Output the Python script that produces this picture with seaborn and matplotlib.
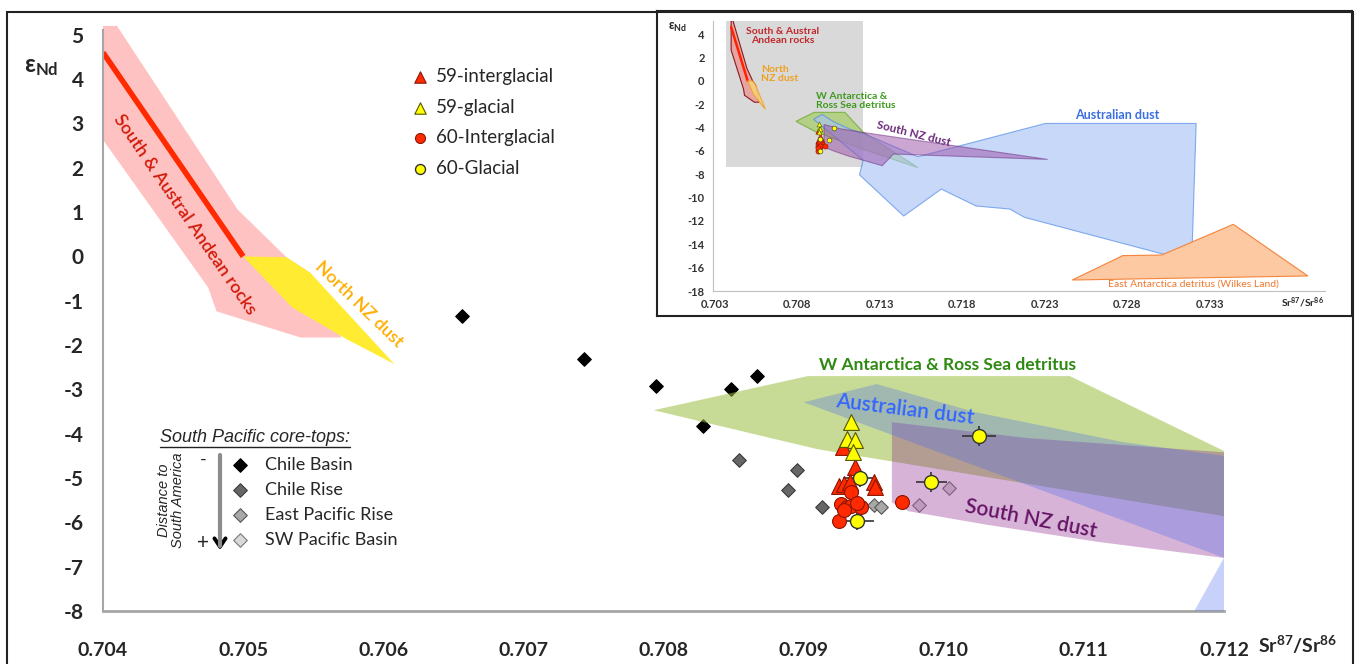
import numpy as np
import matplotlib
matplotlib.use("Agg")
import matplotlib.pyplot as plt
import seaborn as sns
from matplotlib.patches import Rectangle
from matplotlib.lines import Line2D
from matplotlib.ticker import FormatStrFormatter

# ---------------- data (Sr87/Sr86 , eps Nd) ----------------
# source envelopes
andean_x = [0.70400, 0.70410, 0.70496, 0.70531, 0.70548, 0.70570, 0.70541, 0.70481, 0.70475, 0.70400]
andean_y = [5.20, 5.20, 1.06, -0.02, -0.37, -1.83, -1.83, -1.24, -0.70, 2.63]
andean_line_x = [0.70400, 0.70500]
andean_line_y = [4.60, 0.00]
nnz_x = [0.70500, 0.70531, 0.70548, 0.70608, 0.70574, 0.70535]
nnz_y = [0.00, -0.02, -0.37, -2.43, -1.87, -1.15]
war_x = [0.70793, 0.70903, 0.71090, 0.71200, 0.71533, 0.71200, 0.70910]
war_y = [-3.47, -2.70, -2.70, -4.39, -7.44, -5.86, -4.35]
aus_x = [0.70900, 0.70952, 0.71022, 0.71128, 0.71200, 0.71533, 0.72305, 0.73219, 0.73192,
         0.72178, 0.72089, 0.71885, 0.71674, 0.71446, 0.71178, 0.71200]
aus_y = [-3.29, -2.88, -3.51, -4.19, -4.50, -6.50, -3.65, -3.65, -15.49,
         -11.69, -10.98, -10.72, -9.27, -11.58, -8.05, -6.80]
snz_x = [0.70963, 0.71060, 0.71200, 0.72319, 0.71384, 0.71316, 0.71110, 0.71030, 0.70975, 0.70963]
snz_y = [-3.74, -4.10, -4.42, -6.73, -6.27, -7.27, -6.44, -6.05, -5.75, -5.55]
eant_x = [0.72468, 0.72774, 0.73010, 0.73444, 0.73896]
eant_y = [-17.06, -14.97, -14.92, -12.29, -16.71]
zoom_box_x = [0.7037, 0.7120, 0.7120, 0.7037]
zoom_box_y = [5.34, 5.34, -7.36, -7.36]

# South Pacific core-tops
cb_x = [0.70656, 0.70743, 0.70795, 0.70828, 0.70848, 0.70867]
cb_y = [-1.35, -2.32, -2.93, -3.83, -3.00, -2.70]
cr_x = [0.70854, 0.70895, 0.70889, 0.70913]
cr_y = [-4.59, -4.82, -5.27, -5.65]
epr_x = [0.70950, 0.70955]
epr_y = [-5.60, -5.65]
swp_x = [0.70982, 0.71004]
swp_y = [-5.61, -5.23]

# cores 59 / 60
t59_ig_x = [0.70928, 0.70937, 0.70925, 0.70929, 0.70933, 0.70950, 0.70951]
t59_ig_y = [-4.30, -4.75, -5.18, -5.14, -5.09, -5.09, -5.20]
t59_g_x = [0.70934, 0.70931, 0.70937, 0.70935]
t59_g_y = [-3.74, -4.12, -4.14, -4.41]
c60_ig_x = [0.70934, 0.70927, 0.70931, 0.70934, 0.70941, 0.70938, 0.70925, 0.70929, 0.70970]
c60_ig_y = [-5.32, -5.59, -5.65, -5.63, -5.65, -5.57, -5.97, -5.72, -5.54]
c60_g_x = [0.70940, 0.70938, 0.70991, 0.71025]
c60_g_y = [-5.00, -5.97, -5.09, -4.05]
c60_g_xerr = [0.00012, 0.00012, 0.00011, 0.00012]
c60_g_yerr = [0.20, 0.20, 0.22, 0.22]

xticks = [0.704, 0.705, 0.706, 0.707, 0.708, 0.709, 0.710, 0.711, 0.712]
yticks = list(range(-8, 6))
inset_xticks = [0.703, 0.708, 0.713, 0.718, 0.723, 0.728, 0.733]
inset_yticks = list(range(-18, 5, 2))

# ---------------- style ----------------
sns.set_style("white")
plt.rcParams['font.family'] = ['Lato', 'DejaVu Sans']
plt.rcParams['axes.unicode_minus'] = False
plt.rcParams['mathtext.fontset'] = 'custom'
plt.rcParams['mathtext.rm'] = 'Lato:bold'
plt.rcParams['mathtext.it'] = 'Lato:bold'
plt.rcParams['mathtext.bf'] = 'Lato:bold'
plt.rcParams['mathtext.default'] = 'rm'

W, H = 1356, 664
def fx(px):
    return px / W
def fy(py):
    return 1 - py / H

fig = plt.figure(figsize=(13.56, 6.64), dpi=100)
ax = fig.add_axes([fx(103), fy(611), fx(1224) - fx(103), fy(21.5) - fy(611)])
ax.set_xlim(0.704, 0.712)
ax.set_ylim(-8, 5.3)

grey = '#a6a6a6'
for s in ['top', 'right']:
    ax.spines[s].set_visible(False)
ax.spines['left'].set_color(grey)
ax.spines['left'].set_linewidth(1.5)
ax.spines['left'].set_bounds(-8, 5.1)
ax.spines['bottom'].set_color(grey)
ax.spines['bottom'].set_linewidth(2)
ax.set_xticks(xticks)
ax.set_yticks(yticks)
ax.xaxis.set_major_formatter(FormatStrFormatter('%.3f'))
ax.tick_params(axis='x', direction='out', length=7, width=1.5, color=grey, pad=15, labelsize=14)
ax.tick_params(axis='y', direction='out', length=6, width=1.5, color=grey, pad=8, labelsize=15)
for lbl in ax.get_xticklabels() + ax.get_yticklabels():
    lbl.set_fontweight('bold')

# source fields
ax.fill(andean_x, andean_y, color='#ffc2c2', lw=0, zorder=1)
ax.fill(nnz_x, nnz_y, color='#ffec32', lw=0, zorder=1.2)
ax.plot(andean_line_x, andean_line_y, color='#ff2a00', lw=4, solid_capstyle='butt', zorder=1.5)

# core-top diamonds (under the fields)
sns.scatterplot(x=cb_x, y=cb_y, ax=ax, marker='D', s=48, color='black', edgecolor='black',
                linewidth=0.8, label='Chile Basin', zorder=2)
sns.scatterplot(x=cr_x, y=cr_y, ax=ax, marker='D', s=48, color='#666666', edgecolor='#3a3a3a',
                linewidth=0.8, label='Chile Rise', zorder=2)
sns.scatterplot(x=epr_x, y=epr_y, ax=ax, marker='D', s=48, color='#a8a8a8', edgecolor='#555555',
                linewidth=0.8, label='East Pacific Rise', zorder=2)
sns.scatterplot(x=swp_x, y=swp_y, ax=ax, marker='D', s=48, color='#d9d9d9', edgecolor='#777777',
                linewidth=0.8, label='SW Pacific Basin', zorder=2)

ax.fill(war_x, war_y, color='#9bbf40', alpha=0.55, lw=0, zorder=2.2)
ax.fill(snz_x, snz_y, color='#902f90', alpha=0.36, lw=0, zorder=2.4)
ax.fill(aus_x, aus_y, color='#4869ee', alpha=0.30, lw=0, zorder=2.6)

# labels of the fields
ax.text(0.70458, 0.95, 'South & Austral Andean rocks', color='#d01a0a', fontsize=13,
        fontweight='semibold', rotation=-55.5, ha='center', va='center', rotation_mode='anchor', zorder=4)
ax.text(0.70583, -1.08, 'North NZ dust', color='#ffae00', fontsize=13, fontweight='semibold',
        rotation=-44, ha='center', va='center', rotation_mode='anchor', zorder=4)
ax.text(0.71003, -2.45, 'W Antarctica & Ross Sea detritus', color='#2e8a12', fontsize=12.5,
        fontweight='bold', ha='center', va='center', zorder=4)
ax.text(0.70972, -3.45, 'Australian dust', color='#3366ff', fontsize=15, fontweight='semibold',
        rotation=-7, ha='center', va='center', rotation_mode='anchor', zorder=4)
ax.text(0.71062, -5.92, 'South NZ dust', color='#661466', fontsize=15, fontweight='semibold',
        rotation=-11, ha='center', va='center', rotation_mode='anchor', zorder=4)

# cores 59/60
ax.errorbar(c60_g_x, c60_g_y, xerr=c60_g_xerr, yerr=c60_g_yerr, fmt='none', ecolor='#333333',
            elinewidth=1.2, capsize=0, zorder=5)
sns.scatterplot(x=t59_ig_x, y=t59_ig_y, ax=ax, marker='^', s=130, color='#ff2a00', edgecolor='#8b1500',
                linewidth=0.8, label='59-interglacial', zorder=6)
sns.scatterplot(x=t59_g_x, y=t59_g_y, ax=ax, marker='^', s=130, color='#ffff00', edgecolor='#555500',
                linewidth=0.8, label='59-glacial', zorder=6)
sns.scatterplot(x=c60_ig_x, y=c60_ig_y, ax=ax, marker='o', s=100, color='#ff2a00', edgecolor='#8b1500',
                linewidth=0.8, label='60-Interglacial', zorder=6)
sns.scatterplot(x=c60_g_x, y=c60_g_y, ax=ax, marker='o', s=100, color='#ffff00', edgecolor='#333333',
                linewidth=1.0, label='60-Glacial', zorder=6)

handles, labels = ax.get_legend_handles_labels()
hmap = dict(zip(labels, handles))
lab1 = ['59-interglacial', '59-glacial', '60-Interglacial', '60-Glacial']
lab2 = ['Chile Basin', 'Chile Rise', 'East Pacific Rise', 'SW Pacific Basin']
leg1 = ax.legend([hmap[l] for l in lab1], lab1, loc='upper left', bbox_to_anchor=(fx(411), fy(68)),
                 bbox_transform=fig.transFigure, frameon=False, fontsize=13.5, handlelength=1.0,
                 handletextpad=0.35, labelspacing=0.72, borderpad=0, borderaxespad=0, markerscale=0.72)
ax.add_artist(leg1)
leg2 = ax.legend([hmap[l] for l in lab2], lab2, loc='upper left', bbox_to_anchor=(fx(231), fy(457)),
                 bbox_transform=fig.transFigure, frameon=False, fontsize=13, handlelength=1.0,
                 handletextpad=0.9, labelspacing=0.5, borderpad=0, borderaxespad=0, markerscale=1.0)

# core-top legend decorations
ttl = fig.text(fx(160), fy(437), 'South Pacific core-tops:', fontsize=13, style='italic',
               ha='left', va='center', family=['Liberation Sans', 'DejaVu Sans'])
fig.text(fx(171), fy(500), 'Distance to\nSouth America', fontsize=10.5, style='italic', rotation=90,
         ha='center', va='center', linespacing=1.0, family=['Liberation Sans', 'DejaVu Sans'])
fig.text(fx(203), fy(460), '-', fontsize=13, ha='center', va='center')
fig.text(fx(203), fy(543), '+', fontsize=15, ha='center', va='center')
fig.add_artist(Line2D([fx(220), fx(220)], [fy(455), fy(546)], color='#8c8c8c', lw=3))
ax.annotate('', xy=(fx(220), fy(553)), xytext=(fx(220), fy(538)), xycoords='figure fraction',
            arrowprops=dict(arrowstyle='->,head_length=0.6,head_width=0.4', color='black', lw=2.8))

# axis titles
fig.text(fx(24), fy(66), r'ε$_{Nd}$', fontsize=17, fontweight='bold', ha='left', va='center')
fig.text(fx(1258), fy(645), r'Sr$^{87}$/Sr$^{86}$', fontsize=14, fontweight='bold', ha='left', va='center')

# ---------------- inset ----------------
frame = fig.add_axes([fx(657), fy(316), fx(1352) - fx(657), fy(11) - fy(316)])
frame.set_xticks([])
frame.set_yticks([])
frame.set_facecolor('white')
for s in frame.spines.values():
    s.set_color('#222222')
    s.set_linewidth(1.5)

axi = fig.add_axes([fx(713), fy(291), fx(1325) - fx(713), fy(20.7) - fy(291)])
axi.patch.set_alpha(0)
axi.set_xlim(0.7029, 0.7400)
axi.set_ylim(-18, 5.15)
for s in ['top', 'right']:
    axi.spines[s].set_visible(False)
for s in ['left', 'bottom']:
    axi.spines[s].set_color('#bfbfbf')
axi.set_xticks(inset_xticks)
axi.set_yticks(inset_yticks)
axi.xaxis.set_major_formatter(FormatStrFormatter('%.3f'))
axi.tick_params(axis='both', direction='out', length=3, color='#bfbfbf', labelsize=8,
                labelcolor='#333333', pad=3)
for lbl in axi.get_xticklabels() + axi.get_yticklabels():
    lbl.set_fontweight('bold')

axi.fill(zoom_box_x, zoom_box_y, color='#d9d9d9', lw=0, zorder=1)
axi.fill(andean_x, andean_y, facecolor='#e8a3a3', edgecolor='#8b1a1a', lw=0.8, zorder=2)
axi.plot(andean_line_x, andean_line_y, color='#ff2200', lw=1.8, zorder=2.1)
axi.fill(nnz_x, nnz_y, facecolor='#f7d27a', edgecolor='#f0a030', lw=0.8, alpha=0.9, zorder=2.2)
axi.fill(war_x, war_y, facecolor='#a8cc6a', edgecolor='#6aa82a', lw=0.8, alpha=0.75, zorder=2.3)
axi.fill(aus_x, aus_y, facecolor='#a9c4f5', edgecolor='#4a86e8', lw=0.8, alpha=0.65, zorder=2.4)
axi.fill(snz_x, snz_y, facecolor='#9b4fa8', edgecolor='#6b2a7b', lw=0.8, alpha=0.5, zorder=2.5)
axi.fill(eant_x, eant_y, facecolor='#fcc9a2', edgecolor='#f4843c', lw=0.8, zorder=2.6)

sns.scatterplot(x=t59_ig_x, y=t59_ig_y, ax=axi, marker='^', s=14, color='#ff2a00', edgecolor='#8b1500',
                linewidth=0.4, zorder=5, legend=False)
sns.scatterplot(x=c60_ig_x, y=c60_ig_y, ax=axi, marker='o', s=14, color='#ff2a00', edgecolor='#8b1500',
                linewidth=0.4, zorder=5, legend=False)
sns.scatterplot(x=t59_g_x, y=t59_g_y, ax=axi, marker='^', s=12, color='#ffff00', edgecolor='#555500',
                linewidth=0.4, zorder=5.1, legend=False)
sns.scatterplot(x=c60_g_x, y=c60_g_y, ax=axi, marker='o', s=12, color='#ffff00', edgecolor='#333333',
                linewidth=0.4, zorder=5.1, legend=False)

axi.text(0.70712, 4.63, 'South & Austral\nAndean rocks', color='#c0282d', fontsize=7.5, fontweight='bold',
         ha='center', va='top', linespacing=1.05, zorder=6)
axi.text(0.70579, 1.35, 'North\nNZ dust', color='#f0a020', fontsize=7.5, fontweight='bold',
         ha='left', va='top', linespacing=1.05, zorder=6)
axi.text(0.70915, -0.94, 'W Antarctica &\nRoss Sea detritus', color='#3d9a1e', fontsize=7.5,
         fontweight='bold', ha='left', va='top', linespacing=1.05, zorder=6)
axi.text(0.71506, -4.5, 'South NZ dust', color='#6b2a7b', fontsize=8.5, fontweight='bold',
         rotation=-14, ha='center', va='center', rotation_mode='anchor', zorder=6)
axi.text(0.72742, -2.93, 'Australian dust', color='#3b6fe0', fontsize=9, fontweight='bold',
         ha='center', va='center', zorder=6)
axi.text(0.73200, -17.43, 'East Antarctica detritus (Wilkes Land)', color='#f07830', fontsize=7.5,
         ha='center', va='center', zorder=6)
fig.text(fx(668), fy(27), r'ε$_{Nd}$', fontsize=9, fontweight='bold', ha='left', va='center')
fig.text(fx(1281), fy(303), r'Sr$^{87}$/Sr$^{86}$', fontsize=7.5, fontweight='bold', ha='left', va='center')

# outer frame of the picture
fig.add_artist(Rectangle((fx(7), fy(668)), fx(1353) - fx(7), fy(12) - fy(668), fill=False,
                         transform=fig.transFigure, ec='#222222', lw=1.5, clip_on=False))

# underline of the core-top title
fig.canvas.draw()
bb = ttl.get_window_extent().transformed(fig.transFigure.inverted())
fig.add_artist(Line2D([bb.x0, bb.x1], [bb.y0 - 0.002, bb.y0 - 0.002], color='#222222', lw=1))

fig.savefig('out.png', dpi=100)
